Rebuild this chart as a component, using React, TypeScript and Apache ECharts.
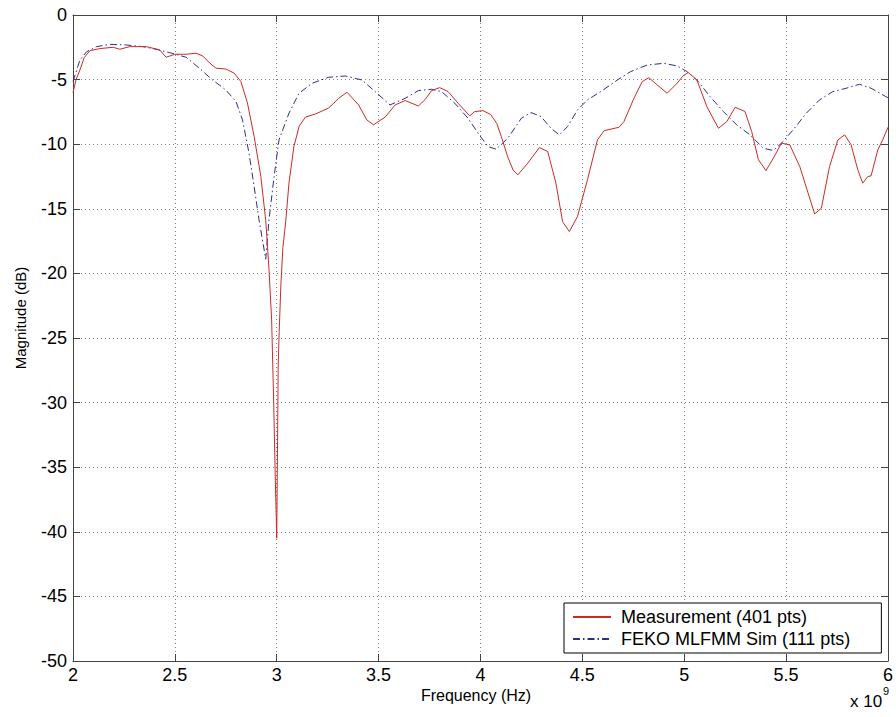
import React, { useEffect, useRef } from "react";
import * as echarts from "echarts";

const xTicks = [2, 2.5, 3, 3.5, 4, 4.5, 5, 5.5, 6];
const yTicks = [0, -5, -10, -15, -20, -25, -30, -35, -40, -45, -50];

const measFreq = [
  2.0, 2.015, 2.034, 2.055, 2.083, 2.132, 2.197, 2.23, 2.278, 2.36, 2.425, 2.457, 2.5, 2.555, 2.604,
  2.637, 2.669, 2.702, 2.75, 2.791, 2.824, 2.856, 2.889, 2.922, 2.946, 2.962, 2.975, 2.985, 2.993,
  2.997, 3.0, 3.004, 3.007, 3.012, 3.02, 3.03, 3.044, 3.06, 3.084, 3.11, 3.141, 3.19, 3.255, 3.304,
  3.345, 3.402, 3.442, 3.475, 3.532, 3.581, 3.63, 3.695, 3.727, 3.76, 3.8, 3.841, 3.89, 3.947, 3.971,
  4.012, 4.05, 4.08, 4.102, 4.134, 4.16, 4.183, 4.232, 4.289, 4.33, 4.37, 4.403, 4.436, 4.476, 4.525,
  4.574, 4.607, 4.68, 4.704, 4.753, 4.794, 4.826, 4.867, 4.916, 4.965, 4.995, 5.02, 5.062, 5.111,
  5.168, 5.209, 5.25, 5.298, 5.331, 5.364, 5.401, 5.437, 5.477, 5.518, 5.567, 5.608, 5.64, 5.673,
  5.713, 5.754, 5.787, 5.819, 5.852, 5.876, 5.901, 5.917, 5.95, 5.974, 6.0,
];
const measMag = [
  -6.0, -5.0, -4.25, -3.3, -2.76, -2.6, -2.5, -2.65, -2.45, -2.45, -2.7, -3.27, -3.04, -3.04, -2.96,
  -3.17, -3.69, -4.12, -4.18, -4.5, -5.15, -6.8, -9.4, -12.5, -15.9, -19.7, -23.6, -30, -36,
  -38.5, -40.5, -33, -27.2, -24.5, -21, -18, -16.0, -13, -10.2, -8.6, -7.9, -7.66, -7.2, -6.45,
  -5.98, -6.96, -8.12, -8.5, -7.9, -6.96, -6.62, -7.04, -6.57, -5.85, -5.62, -5.93, -6.83, -7.81, -7.48,
  -7.4, -7.7, -8.4, -9.4, -11.0, -12.0, -12.37, -11.47, -10.26, -10.57, -13.0, -16.0, -16.76, -15.6, -12.76,
  -9.67, -8.95, -8.69, -8.25, -6.45, -5.15, -4.85, -5.41, -6.06, -5.28, -4.7, -4.45, -5.03, -7.09,
  -8.77, -8.25, -7.14, -7.47, -9.02, -11.2, -12.04, -11.09, -9.92, -10.05, -11.73, -13.79, -15.4, -14.95,
  -11.73, -9.67, -9.28, -10.05, -11.99, -13.02, -12.5, -12.45, -10.44, -9.67, -8.69,
];

const simFreq = [
  2.0, 2.034, 2.067, 2.116, 2.18, 2.262, 2.343, 2.408, 2.474, 2.555, 2.62, 2.685, 2.75, 2.8, 2.832,
  2.864, 2.889, 2.913, 2.946, 2.962, 2.987, 3.011, 3.06, 3.109, 3.174, 3.255, 3.337, 3.418, 3.483,
  3.556, 3.63, 3.695, 3.76, 3.809, 3.874, 3.939, 3.988, 4.037, 4.077, 4.134, 4.2, 4.248, 4.297, 4.346,
  4.387, 4.427, 4.476, 4.525, 4.59, 4.672, 4.737, 4.818, 4.899, 4.965, 5.013, 5.062, 5.127, 5.192,
  5.257, 5.323, 5.388, 5.437, 5.477, 5.534, 5.599, 5.664, 5.729, 5.795, 5.86, 5.917, 5.99, 6.0,
];
const simMag = [
  -5.15, -3.48, -2.84, -2.45, -2.27, -2.32, -2.45, -2.65, -2.91, -3.27, -4.12, -5.03, -5.8, -6.7, -8.12,
  -10.7, -13.28, -15.85, -18.9, -15.85, -12.5, -9.67, -7.6, -6.06, -5.28, -4.82, -4.72, -5.03, -5.93,
  -6.96, -6.45, -5.85, -5.75, -5.93, -6.83, -7.99, -9.15, -10.19, -10.39, -9.54, -8.0, -7.55, -7.86, -8.77,
  -9.28, -8.64, -7.35, -6.57, -5.93, -5.03, -4.38, -3.87, -3.74, -3.94, -4.38, -5.03, -6.32, -7.47,
  -8.5, -9.28, -10.31, -10.49, -9.92, -8.9, -7.6, -6.57, -5.93, -5.67, -5.36, -5.67, -6.32, -6.4,
];

const measName = "Measurement (401 pts)";
const simName = "FEKO MLFMM Sim (111 pts)";
const xName = "Frequency (Hz)";
const yName = "Magnitude (dB)";
const expBase = "x 10";
const expPower = "9";

const FONT = "'Liberation Sans', Arial, sans-serif";
const AXIS = "#444444";

export default function App() {
  const ref = useRef<HTMLDivElement>(null);
  useEffect(() => {
    if (!ref.current) return;
    const chart = echarts.init(ref.current, undefined, { renderer: "svg" });
    const xMin = xTicks[0];
    const xMax = xTicks[xTicks.length - 1];
    const yMin = Math.min(...yTicks);
    const yMax = Math.max(...yTicks);
    const commonTick = { show: true, inside: true, length: 7, lineStyle: { color: AXIS, width: 1 } };
    const commonLine = { show: true, onZero: false, lineStyle: { color: AXIS, width: 1 } };
    const grid = { color: "#808080", type: [1, 3], width: 1 };
    const txt = (text: string, size: number, extra: any = {}) => ({
      text,
      fontSize: size,
      fontFamily: FONT,
      fill: "#000",
      ...extra,
    });
    chart.setOption({
      animation: false,
      backgroundColor: "#ffffff",
      textStyle: { fontFamily: FONT },
      grid: { left: 73, top: 15, right: 4, bottom: 56, containLabel: false },
      xAxis: [
        {
          type: "value",
          min: xMin,
          max: xMax,
          interval: 0.5,
          position: "bottom",
          axisLine: commonLine,
          axisTick: commonTick,
          axisLabel: {
            fontFamily: FONT,
            fontSize: 18,
            color: "#000",
            margin: 5,
            formatter: (v: number) => String(v),
          },
          splitLine: { show: true, lineStyle: grid },
        },
        {
          type: "value",
          min: xMin,
          max: xMax,
          interval: 0.5,
          position: "top",
          axisLine: commonLine,
          axisTick: commonTick,
          axisLabel: { show: false },
          splitLine: { show: false },
        },
      ],
      yAxis: [
        {
          type: "value",
          min: yMin,
          max: yMax,
          interval: 5,
          position: "left",
          axisLine: commonLine,
          axisTick: commonTick,
          axisLabel: { fontFamily: FONT, fontSize: 18, color: "#000", margin: 6 },
          splitLine: { show: true, lineStyle: grid },
        },
        {
          type: "value",
          min: yMin,
          max: yMax,
          interval: 5,
          position: "right",
          axisLine: commonLine,
          axisTick: commonTick,
          axisLabel: { show: false },
          splitLine: { show: false },
        },
      ],
      legend: {
        orient: "vertical",
        left: 564,
        top: 603,
        padding: [4, 31, 4, 8],
        itemWidth: 38,
        itemHeight: 10,
        itemGap: 2,
        borderColor: "#000",
        borderWidth: 1,
        backgroundColor: "#fff",
        borderRadius: 0,
        itemStyle: { opacity: 0 },
        textStyle: { fontFamily: FONT, fontSize: 18, color: "#000", lineHeight: 20, padding: [0, 0, 0, 5] },
        data: [measName, simName],
      },
      graphic: [
        {
          type: "text",
          x: 476,
          y: 695,
          style: txt(xName, 16, { align: "center", verticalAlign: "middle" }),
        },
        {
          type: "text",
          x: 20,
          y: 318,
          rotation: Math.PI / 2,
          style: txt(yName, 15, { align: "center", verticalAlign: "middle" }),
        },
        {
          type: "text",
          x: 850,
          y: 701,
          style: txt(expBase, 17, { align: "left", verticalAlign: "middle" }),
        },
        {
          type: "text",
          x: 883,
          y: 691,
          style: txt(expPower, 11, { align: "left", verticalAlign: "middle" }),
        },
      ],
      series: [
        {
          name: measName,
          type: "line",
          symbol: "none",
          smooth: false,
          data: measFreq.map((f, i) => [f, measMag[i]]),
          lineStyle: { color: "#cc2a2a", width: 1 },
          itemStyle: { color: "#cc2a2a" },
          z: 3,
        },
        {
          name: simName,
          type: "line",
          symbol: "none",
          smooth: false,
          data: simFreq.map((f, i) => [f, simMag[i]]),
          lineStyle: { color: "#2e2e8f", width: 1, type: [7, 3, 1.5, 3] },
          itemStyle: { color: "#2e2e8f" },
          z: 2,
        },
      ],
    });
    return () => chart.dispose();
  }, []);
  return (
    <div
      ref={ref}
      style={{ position: "fixed", left: 0, top: 0, width: 896, height: 717, background: "#fff" }}
    />
  );
}
